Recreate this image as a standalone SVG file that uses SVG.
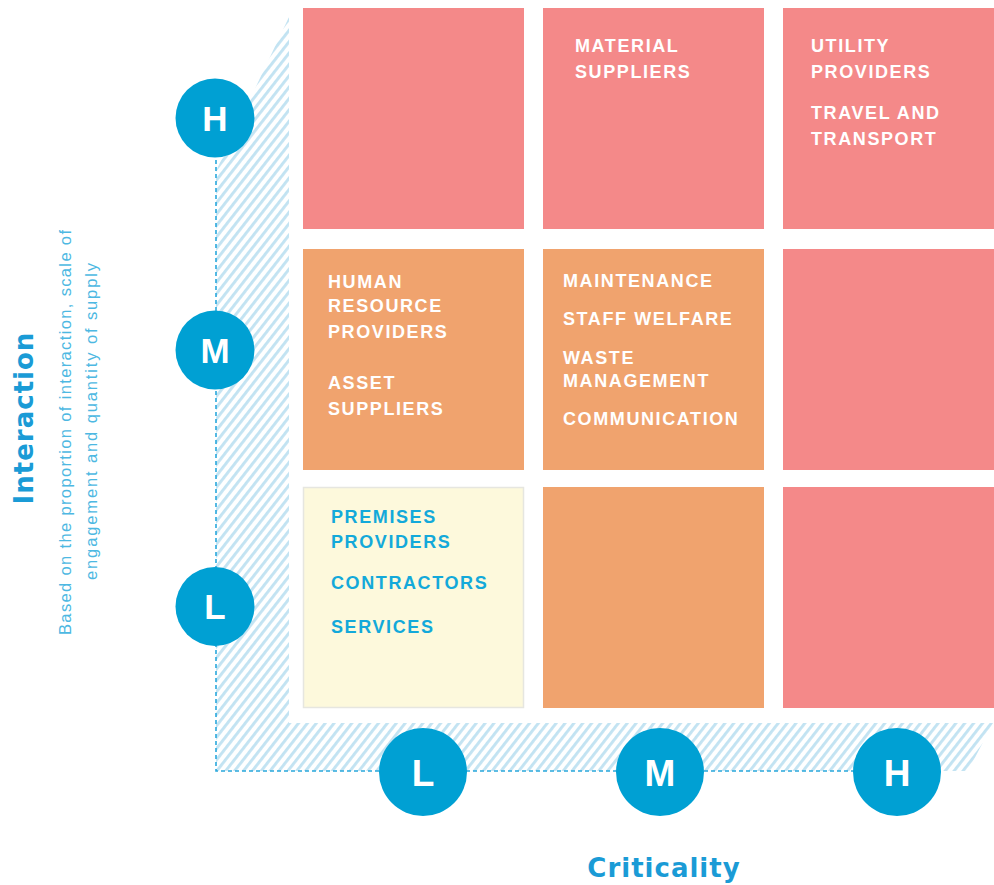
<svg xmlns="http://www.w3.org/2000/svg" width="994" height="885" viewBox="0 0 994 885">
  <defs>
    <pattern id="hatch" width="7" height="7" patternUnits="userSpaceOnUse" patternTransform="rotate(38)">
      <rect x="0" y="0" width="2.9" height="7" fill="#c2e3f2"/>
    </pattern>
    <style>
      .high { fill: #f48989; }
      .mid { fill: #f0a36e; }
      .low { fill: #fdf9dc; stroke: #e6e6e0; stroke-width: 1.5; }
      .label { font-family: "Liberation Sans", Arial, sans-serif; font-weight: bold; font-size: 18px; letter-spacing: 1.6px; fill: #ffffff; }
      .label-blue { fill: #13a9da; }
      .dot { fill: #00a0d3; }
      .dot-text { font-family: "Liberation Sans", Arial, sans-serif; font-weight: bold; fill: #ffffff; text-anchor: middle; }
      .axis-title { font-family: "DejaVu Sans", Verdana, sans-serif; font-weight: bold; font-size: 26px; letter-spacing: 1px; fill: #1a9bd6; text-anchor: middle; }
      .axis-note { font-family: "Liberation Sans", Arial, sans-serif; font-size: 16.5px; fill: #4db8e2; }
      .axis-line { fill: none; stroke: #2aa8dc; stroke-width: 1.6; stroke-dasharray: 4 3; }
    </style>
  </defs>

  <!-- hatched L-shaped band behind the grid -->
  <polygon id="band" points="216,171 289,17 289,723 993,723 968,771 216,771" fill="url(#hatch)"/>

  <!-- dashed axis lines -->
  <g id="connectors">
    <path class="axis-line" d="M216,118 V771 H897"/>
  </g>

  <!-- row H -->
  <g id="cell-hl"><rect class="high" x="303" y="8" width="221" height="221"/></g>
  <g id="cell-hm">
    <rect class="high" x="543" y="8" width="221" height="221"/>
    <text class="label" x="575" y="52">MATERIAL</text>
    <text class="label" x="575" y="78">SUPPLIERS</text>
  </g>
  <g id="cell-hh">
    <rect class="high" x="783" y="8" width="211" height="221"/>
    <text class="label" x="811" y="52">UTILITY</text>
    <text class="label" x="811" y="78">PROVIDERS</text>
    <text class="label" x="811" y="119">TRAVEL AND</text>
    <text class="label" x="811" y="145">TRANSPORT</text>
  </g>

  <!-- row M -->
  <g id="cell-ml">
    <rect class="mid" x="303" y="249" width="221" height="221"/>
    <text class="label" x="328" y="288">HUMAN</text>
    <text class="label" x="328" y="312">RESOURCE</text>
    <text class="label" x="328" y="338">PROVIDERS</text>
    <text class="label" x="328" y="389">ASSET</text>
    <text class="label" x="328" y="415">SUPPLIERS</text>
  </g>
  <g id="cell-mm">
    <rect class="mid" x="543" y="249" width="221" height="221"/>
    <text class="label" x="563" y="287">MAINTENANCE</text>
    <text class="label" x="563" y="325">STAFF WELFARE</text>
    <text class="label" x="563" y="364">WASTE</text>
    <text class="label" x="563" y="387">MANAGEMENT</text>
    <text class="label" x="563" y="425">COMMUNICATION</text>
  </g>
  <g id="cell-mh"><rect class="high" x="783" y="249" width="211" height="221"/></g>

  <!-- row L -->
  <g id="cell-ll">
    <rect class="low" x="303.5" y="487.5" width="220" height="220"/>
    <text class="label label-blue" x="331" y="523">PREMISES</text>
    <text class="label label-blue" x="331" y="548">PROVIDERS</text>
    <text class="label label-blue" x="331" y="589">CONTRACTORS</text>
    <text class="label label-blue" x="331" y="633">SERVICES</text>
  </g>
  <g id="cell-lm"><rect class="mid" x="543" y="487" width="221" height="221"/></g>
  <g id="cell-lh"><rect class="high" x="783" y="487" width="211" height="221"/></g>

  <!-- interaction scale -->
  <g id="interaction-h"><circle class="dot" cx="215" cy="118" r="39.5"/><text class="dot-text" x="215" y="130.5" font-size="35">H</text></g>
  <g id="interaction-m"><circle class="dot" cx="215" cy="350" r="39.5"/><text class="dot-text" x="215" y="362.5" font-size="35">M</text></g>
  <g id="interaction-l"><circle class="dot" cx="215" cy="606.5" r="39.5"/><text class="dot-text" x="215" y="619" font-size="35">L</text></g>

  <!-- criticality scale -->
  <g id="criticality-l"><circle class="dot" cx="423" cy="772" r="44"/><text class="dot-text" x="423" y="785.5" font-size="37">L</text></g>
  <g id="criticality-m"><circle class="dot" cx="660" cy="772" r="44"/><text class="dot-text" x="660" y="785.5" font-size="37">M</text></g>
  <g id="criticality-h"><circle class="dot" cx="897" cy="772" r="44"/><text class="dot-text" x="897" y="785.5" font-size="37">H</text></g>

  <!-- axis titles -->
  <g id="axis-x">
    <text class="axis-title" x="664" y="877">Criticality</text>
  </g>
  <g id="axis-y">
    <text class="axis-title" transform="translate(33,418) rotate(-90)" x="0" y="0" letter-spacing="1.5">Interaction</text>
    <text class="axis-note" transform="translate(71,635) rotate(-90)" x="0" y="0" textLength="405" lengthAdjust="spacing">Based on the proportion of interaction, scale of</text>
    <text class="axis-note" transform="translate(97,580) rotate(-90)" x="0" y="0" textLength="317" lengthAdjust="spacing">engagement and quantity of supply</text>
  </g>
</svg>
